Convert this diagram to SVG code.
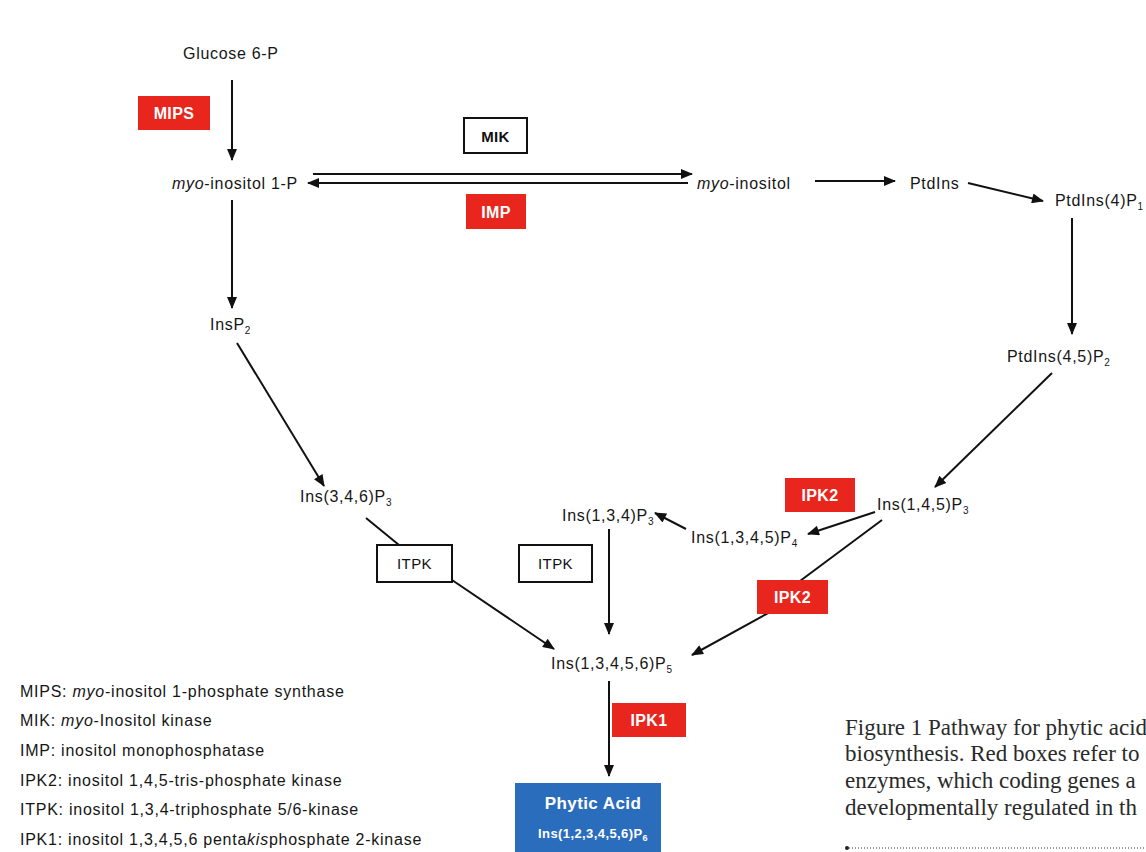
<svg xmlns="http://www.w3.org/2000/svg" width="1146" height="852" viewBox="0 0 1146 852">
  <defs>
    <marker id="ah" viewBox="0 0 12 10" refX="11" refY="5" markerWidth="13" markerHeight="10" markerUnits="userSpaceOnUse" orient="auto">
      <path d="M0,0 L12,5 L0,10 Z" fill="#111"/>
    </marker>
    <style>
      .t { font-family: "Liberation Sans", Arial, sans-serif; font-size: 16px; fill: #161616; letter-spacing: 0.7px; }
      .sub { font-size: 10px; }
      .it { font-style: italic; }
      .red { fill: #e8261e; }
      .wl { font-family: "Liberation Sans", Arial, sans-serif; font-size: 16px; font-weight: bold; fill: #fff; text-anchor: middle; letter-spacing: 0.4px; }
      .bl { font-family: "Liberation Sans", Arial, sans-serif; font-size: 15px; fill: #111; text-anchor: middle; letter-spacing: 0.4px; }
      .box { fill: #fff; stroke: #111; stroke-width: 2; }
      .ln { stroke: #111; stroke-width: 2; fill: none; }
      .arr { stroke: #111; stroke-width: 2; fill: none; marker-end: url(#ah); }
      .leg { font-family: "Liberation Sans", Arial, sans-serif; font-size: 16px; fill: #161616; letter-spacing: 0.75px; }
      .cap { font-family: "Liberation Serif", "Times New Roman", serif; font-size: 23px; fill: #2a2a2a; }
    </style>
  </defs>
  <rect width="1146" height="852" fill="#fff"/>

  <g id="connectors">
    <line class="arr" x1="232" y1="80" x2="232" y2="160"/>
    <line class="arr" x1="313" y1="174" x2="692" y2="174"/>
    <line class="arr" x1="688" y1="183" x2="308" y2="183"/>
    <line class="arr" x1="815" y1="181" x2="895" y2="181"/>
    <line class="arr" x1="968" y1="183" x2="1043" y2="201"/>
    <line class="arr" x1="1072" y1="218" x2="1072" y2="334"/>
    <line class="arr" x1="232" y1="200" x2="232" y2="308"/>
    <line class="arr" x1="237" y1="343" x2="324" y2="486"/>
    <line class="ln" x1="366" y1="518" x2="399" y2="545"/>
    <line class="arr" x1="452" y1="580" x2="554" y2="649"/>
    <line class="arr" x1="609" y1="529" x2="609" y2="634"/>
    <line class="arr" x1="1052" y1="373" x2="935" y2="487"/>
    <line class="arr" x1="875" y1="512" x2="808" y2="534"/>
    <line class="arr" x1="686" y1="529" x2="655" y2="513"/>
    <line class="ln" x1="882" y1="520" x2="800" y2="581"/>
    <line class="arr" x1="770" y1="612" x2="692" y2="655"/>
    <line class="arr" x1="609" y1="681" x2="609" y2="776"/>
  </g>

  <g id="glucose6p"><text class="t" x="183" y="59">Glucose 6-P</text></g>
  <g id="mips"><rect class="red" x="138" y="96" width="72" height="34"/><text class="wl" x="174" y="119">MIPS</text></g>
  <g id="myoinositol1p"><text class="t" x="172" y="189"><tspan class="it">myo</tspan>-inositol 1-P</text></g>
  <g id="mik"><rect class="box" x="464" y="118" width="63" height="35"/><text class="bl" x="495.5" y="142" font-weight="bold">MIK</text></g>
  <g id="imp"><rect class="red" x="466" y="194" width="60" height="35"/><text class="wl" x="496" y="218">IMP</text></g>
  <g id="myoinositol"><text class="t" x="697" y="189"><tspan class="it">myo</tspan>-inositol</text></g>
  <g id="ptdins"><text class="t" x="910" y="189">PtdIns</text></g>
  <g id="ptdins4p"><text class="t" x="1055" y="206">PtdIns(4)P<tspan class="sub" dy="4">1</tspan></text></g>
  <g id="ptdins45p2"><text class="t" x="1007" y="362">PtdIns(4,5)P<tspan class="sub" dy="4">2</tspan></text></g>
  <g id="insp2"><text class="t" x="210" y="330">InsP<tspan class="sub" dy="4">2</tspan></text></g>
  <g id="ins346p3"><text class="t" x="300" y="502">Ins(3,4,6)P<tspan class="sub" dy="4">3</tspan></text></g>
  <g id="itpk1"><rect class="box" x="377" y="545" width="75" height="37"/><text class="bl" x="414.5" y="569">ITPK</text></g>
  <g id="itpk2"><rect class="box" x="519" y="545" width="73" height="37"/><text class="bl" x="555.5" y="569">ITPK</text></g>
  <g id="ins134p3"><text class="t" x="562" y="521">Ins(1,3,4)P<tspan class="sub" dy="4">3</tspan></text></g>
  <g id="ins1345p4"><text class="t" x="691" y="543">Ins(1,3,4,5)P<tspan class="sub" dy="4">4</tspan></text></g>
  <g id="ins145p3"><text class="t" x="877" y="510">Ins(1,4,5)P<tspan class="sub" dy="4">3</tspan></text></g>
  <g id="ipk2a"><rect class="red" x="785" y="478" width="70" height="34"/><text class="wl" x="820" y="501">IPK2</text></g>
  <g id="ipk2b"><rect class="red" x="757" y="580" width="71" height="34"/><text class="wl" x="792.5" y="603">IPK2</text></g>
  <g id="ins13456p5"><text class="t" x="551" y="669">Ins(1,3,4,5,6)P<tspan class="sub" dy="4">5</tspan></text></g>
  <g id="ipk1"><rect class="red" x="612" y="703" width="74" height="34"/><text class="wl" x="649" y="726">IPK1</text></g>
  <g id="phyticacid">
    <rect x="515" y="783" width="146" height="75" fill="#2b6dbd"/>
    <text class="wl" x="593" y="809" style="font-size:17px">Phytic Acid</text>
    <text class="wl" x="593" y="838" style="font-size:13px">Ins(1,2,3,4,5,6)P<tspan style="font-size:9px" dy="3">6</tspan></text>
  </g>

  <g id="legend">
    <text class="leg" x="20" y="697">MIPS: <tspan class="it">myo</tspan>-inositol 1-phosphate synthase</text>
    <text class="leg" x="20" y="726">MIK: <tspan class="it">myo</tspan>-Inositol kinase</text>
    <text class="leg" x="20" y="756">IMP: inositol monophosphatase</text>
    <text class="leg" x="20" y="786">IPK2: inositol 1,4,5-tris-phosphate kinase</text>
    <text class="leg" x="20" y="815">ITPK: inositol 1,3,4-triphosphate 5/6-kinase</text>
    <text class="leg" x="20" y="845">IPK1: inositol 1,3,4,5,6 penta<tspan class="it">kis</tspan>phosphate 2-kinase</text>
  </g>

  <g id="caption">
    <text class="cap" x="845" y="735">Figure 1 Pathway for phytic acid</text>
    <text class="cap" x="845" y="761">biosynthesis. Red boxes refer to</text>
    <text class="cap" x="845" y="788">enzymes, which coding genes a</text>
    <text class="cap" x="845" y="815">developmentally regulated in th</text>
    <circle cx="847" cy="848" r="2" fill="#222"/>
    <line x1="849" y1="848" x2="1146" y2="848" stroke="#333" stroke-width="1" stroke-dasharray="1,2"/>
  </g>
</svg>
